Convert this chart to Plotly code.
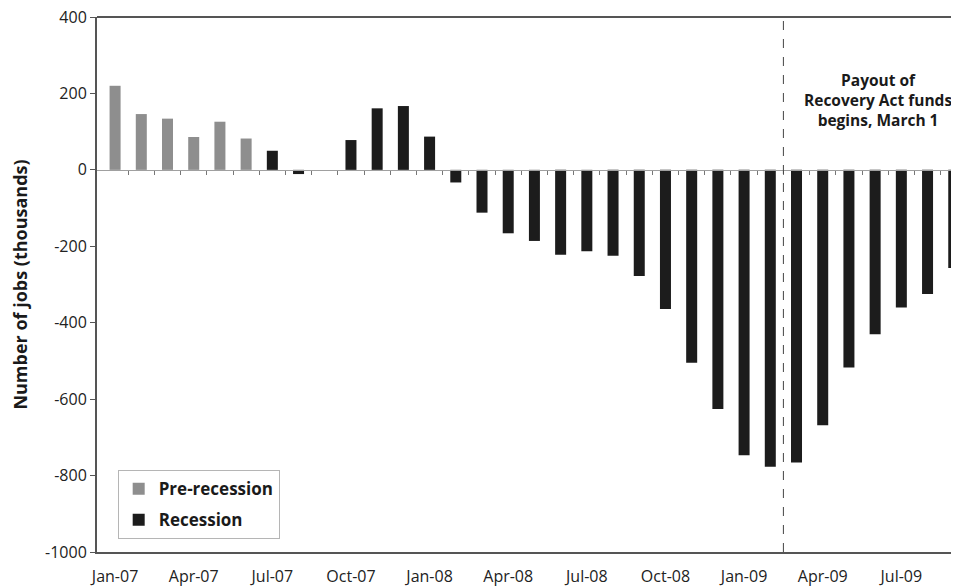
import plotly.graph_objects as go

months = ["Jan-07","Feb-07","Mar-07","Apr-07","May-07","Jun-07","Jul-07","Aug-07","Sep-07",
          "Oct-07","Nov-07","Dec-07","Jan-08","Feb-08","Mar-08","Apr-08","May-08","Jun-08",
          "Jul-08","Aug-08","Sep-08","Oct-08","Nov-08","Dec-08","Jan-09","Feb-09","Mar-09",
          "Apr-09","May-09","Jun-09","Jul-09","Aug-09","Sep-09"]
pre_months = months[:6]
pre_values = [220, 146, 134, 86, 126, 82]
rec_months = months[6:]
rec_values = [50, -11, 0, 78, 161, 167, 87, -33, -112, -166, -186, -222, -213, -225,
              -278, -364, -505, -626, -747, -777, -766, -668, -517, -430, -360, -325, -257]
tick_labels = ["Jan-07","Apr-07","Jul-07","Oct-07","Jan-08","Apr-08","Jul-08","Oct-08",
               "Jan-09","Apr-09","Jul-09"]
y_ticks = [400, 200, 0, -200, -400, -600, -800, -1000]
y_tick_text = ["400", "200", "0", "-200", "-400", "-600", "-800", "-1000"]
payout_index = 25.5
annotation_text = "Payout of<br>Recovery Act funds<br>begins, March 1"

idx = {m: i for i, m in enumerate(months)}
FONT = "Open Sans"
fig = go.Figure()
fig.add_trace(go.Bar(x=[idx[m] for m in pre_months], y=pre_values, name="Pre-recession",
                     legendgroup="a",
                     marker=dict(color="#8e8e8e", line=dict(width=0)), width=0.42))
fig.add_trace(go.Bar(x=[idx[m] for m in rec_months], y=rec_values, name="Recession",
                     legendgroup="b",
                     marker=dict(color="#1c1c1c", line=dict(width=0)), width=0.42))
fig.add_trace(go.Scatter(x=[0, len(months) - 1], y=[0, 0], xaxis="x2", mode="lines",
                         line=dict(width=0), showlegend=False, hoverinfo="skip"))

fig.update_layout(
    width=951, height=580,
    margin=dict(l=89, r=0, t=9, b=36, autoexpand=False),
    paper_bgcolor="white", plot_bgcolor="white",
    font=dict(family=FONT, color="#333333", size=14),
    showlegend=True,
    legend=dict(x=0.024, y=0.153, xanchor="left", yanchor="top",
                bordercolor="#b5b5b5", borderwidth=1, bgcolor="white",
                traceorder="grouped", tracegroupgap=6,
                font=dict(family=FONT, size=17, color="#1a1a1a", weight="bold")),
    xaxis=dict(range=[-0.69, 32.2], tickvals=[idx[m] for m in tick_labels], ticktext=tick_labels,
               showline=True, linecolor="#555555", linewidth=2, mirror=False,
               ticks="", showgrid=False, zeroline=False, automargin=False,
               ticklabelstandoff=9,
               tickfont=dict(size=16, color="#222222")),
    xaxis2=dict(range=[-0.69, 32.2], overlaying="x", anchor="free", position=(1000 / 1400),
                showline=True, linecolor="#a0a0a0", linewidth=1,
                tickvals=[i + 0.5 for i in range(len(months))], ticks="outside",
                ticklen=4, tickwidth=1, tickcolor="#777777", showticklabels=False,
                showgrid=False, zeroline=False, automargin=False),
    yaxis=dict(range=[-1000, 400], tickvals=y_ticks, ticktext=y_tick_text, ticks="outside",
               ticklen=5, tickcolor="#555555", showline=True, linecolor="#555555", linewidth=2,
               ticklabeloverflow="allow", automargin=False,
               showgrid=False, zeroline=False, tickfont=dict(size=16, color="#222222"),
               title=dict(text="Number of jobs (thousands)", standoff=22,
                          font=dict(size=18, color="#1a1a1a", weight="bold"))),
    shapes=[
        dict(type="line", xref="paper", yref="paper", x0=0, x1=1, y0=1, y1=1,
             line=dict(color="#555555", width=2)),
        dict(type="line", xref="x", yref="paper", x0=payout_index, x1=payout_index, y0=0, y1=1,
             line=dict(color="#444444", width=1, dash="dash")),
    ],
    annotations=[dict(x=29.1, xref="x", y=183, yref="y", text=annotation_text, showarrow=False,
                      font=dict(size=15.5, color="#1a1a1a", weight="bold"), align="center")],
)
fig.write_html("out.html")
